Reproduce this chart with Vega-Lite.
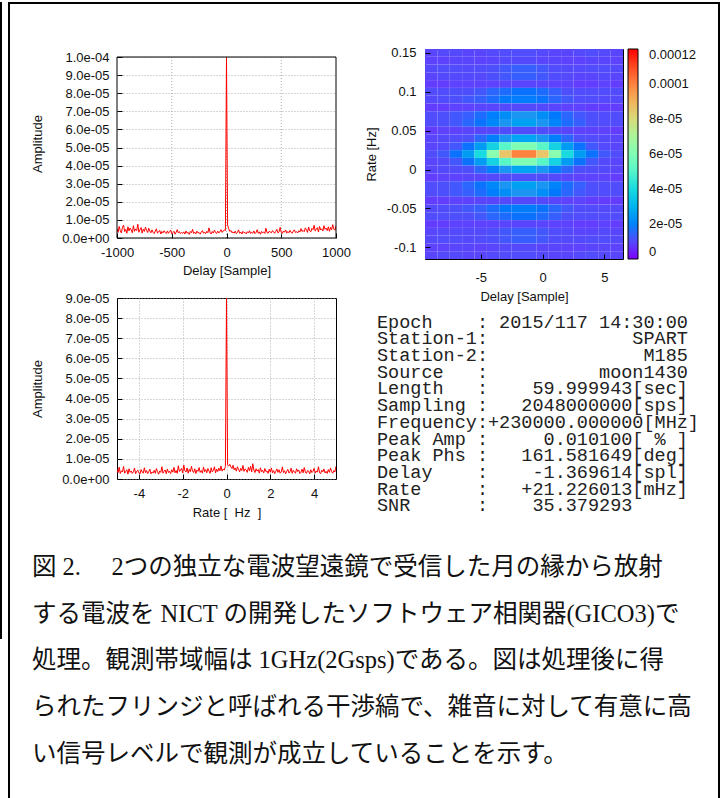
{
"$schema": "https://vega.github.io/schema/vega-lite/v6.json",
"background": "white",
"padding": {"left": 0, "top": 2, "right": 0, "bottom": 0},
"config": {
 "view": {"stroke": null},
 "font": "Liberation Sans",
 "axis": {"labelFont": "Liberation Sans", "labelFontSize": 13, "labelColor": "#111", "titleFont": "Liberation Sans", "titleFontSize": 13, "titleFontWeight": "normal", "titleColor": "#111", "domain": false, "tickColor": "#000", "tickSize": -5, "gridColor": "#999", "gridDash": [1, 2], "gridWidth": 0.8, "labelOverlap": false, "labelFlush": false},
 "legend": {"gradientVerticalMaxLength": 400, "gradientVerticalMinLength": 10}
},
"datasets": {
 "delay": [
{"x":-1000,"y":5.2e-6},{"x":-990,"y":3.1e-6},{"x":-980,"y":6.4e-6},{"x":-970,"y":4.0e-6},{"x":-960,"y":2.8e-6},{"x":-950,"y":5.9e-6},{"x":-940,"y":7.1e-6},{"x":-930,"y":3.5e-6},{"x":-920,"y":4.8e-6},{"x":-910,"y":2.6e-6},{"x":-900,"y":6.2e-6},{"x":-890,"y":3.9e-6},{"x":-880,"y":5.5e-6},{"x":-870,"y":4.4e-6},{"x":-860,"y":2.9e-6},{"x":-850,"y":6.8e-6},{"x":-840,"y":3.7e-6},{"x":-830,"y":5.0e-6},{"x":-820,"y":4.1e-6},{"x":-810,"y":7.6e-6},{"x":-800,"y":3.2e-6},{"x":-790,"y":4.6e-6},{"x":-780,"y":5.8e-6},{"x":-770,"y":2.7e-6},{"x":-760,"y":4.9e-6},{"x":-750,"y":3.6e-6},{"x":-740,"y":6.0e-6},{"x":-730,"y":4.3e-6},{"x":-720,"y":3.0e-6},{"x":-710,"y":5.4e-6},{"x":-700,"y":3.8e-6},
{"x":-690,"y":2.9e-6},{"x":-680,"y":4.5e-6},{"x":-670,"y":3.1e-6},{"x":-660,"y":2.4e-6},{"x":-650,"y":3.8e-6},{"x":-640,"y":5.1e-6},{"x":-630,"y":2.7e-6},{"x":-620,"y":3.3e-6},{"x":-610,"y":4.2e-6},{"x":-600,"y":2.2e-6},{"x":-590,"y":3.6e-6},{"x":-580,"y":2.8e-6},{"x":-570,"y":4.0e-6},{"x":-560,"y":3.1e-6},{"x":-550,"y":2.5e-6},{"x":-540,"y":3.9e-6},{"x":-530,"y":2.6e-6},{"x":-520,"y":3.4e-6},{"x":-510,"y":4.4e-6},{"x":-500,"y":2.3e-6},{"x":-490,"y":3.0e-6},{"x":-480,"y":3.7e-6},{"x":-470,"y":2.1e-6},{"x":-460,"y":3.2e-6},{"x":-450,"y":4.6e-6},{"x":-440,"y":2.8e-6},{"x":-430,"y":3.5e-6},{"x":-420,"y":2.4e-6},{"x":-410,"y":3.0e-6},
{"x":-400,"y":2.6e-6},{"x":-390,"y":3.4e-6},{"x":-380,"y":2.2e-6},{"x":-370,"y":3.9e-6},{"x":-360,"y":2.7e-6},{"x":-350,"y":3.1e-6},{"x":-340,"y":2.0e-6},{"x":-330,"y":3.6e-6},{"x":-320,"y":2.9e-6},{"x":-310,"y":4.8e-6},{"x":-300,"y":2.5e-6},{"x":-290,"y":3.2e-6},{"x":-280,"y":2.3e-6},{"x":-270,"y":3.8e-6},{"x":-260,"y":2.8e-6},{"x":-250,"y":3.0e-6},{"x":-240,"y":2.1e-6},{"x":-230,"y":3.5e-6},{"x":-220,"y":4.1e-6},{"x":-210,"y":2.6e-6},{"x":-200,"y":3.3e-6},{"x":-190,"y":2.4e-6},{"x":-180,"y":3.7e-6},{"x":-170,"y":2.9e-6},{"x":-160,"y":5.6e-6},{"x":-150,"y":3.1e-6},{"x":-140,"y":2.2e-6},{"x":-130,"y":3.6e-6},{"x":-120,"y":2.7e-6},{"x":-110,"y":4.3e-6},{"x":-100,"y":3.0e-6},{"x":-90,"y":2.5e-6},{"x":-80,"y":3.8e-6},{"x":-70,"y":2.8e-6},{"x":-60,"y":3.4e-6},{"x":-50,"y":4.6e-6},{"x":-40,"y":3.1e-6},{"x":-30,"y":3.9e-6},{"x":-20,"y":4.4e-6},
{"x":-10,"y":4.1e-6},{"x":0,"y":1.0e-4},{"x":10,"y":7.2e-6},
{"x":20,"y":5.1e-6},{"x":30,"y":3.6e-6},{"x":40,"y":4.2e-6},{"x":50,"y":2.9e-6},{"x":60,"y":3.4e-6},{"x":70,"y":2.7e-6},{"x":80,"y":3.8e-6},{"x":90,"y":2.4e-6},{"x":100,"y":3.1e-6},{"x":110,"y":4.5e-6},{"x":120,"y":2.6e-6},{"x":130,"y":3.3e-6},{"x":140,"y":2.2e-6},{"x":150,"y":3.7e-6},{"x":160,"y":2.9e-6},{"x":170,"y":3.0e-6},{"x":180,"y":2.3e-6},{"x":190,"y":3.5e-6},{"x":200,"y":2.8e-6},{"x":210,"y":4.0e-6},{"x":220,"y":2.5e-6},{"x":230,"y":3.2e-6},{"x":240,"y":2.7e-6},{"x":250,"y":3.9e-6},{"x":260,"y":2.4e-6},{"x":270,"y":3.1e-6},{"x":280,"y":4.6e-6},{"x":290,"y":2.6e-6},{"x":300,"y":3.4e-6},{"x":310,"y":2.1e-6},{"x":320,"y":3.6e-6},{"x":330,"y":2.8e-6},{"x":340,"y":3.3e-6},{"x":350,"y":2.5e-6},{"x":360,"y":5.4e-6},{"x":370,"y":3.0e-6},{"x":380,"y":2.7e-6},{"x":390,"y":3.8e-6},{"x":400,"y":3.2e-6},
{"x":410,"y":2.9e-6},{"x":420,"y":4.1e-6},{"x":430,"y":3.3e-6},{"x":440,"y":2.6e-6},{"x":450,"y":3.7e-6},{"x":460,"y":4.8e-6},{"x":470,"y":2.8e-6},{"x":480,"y":3.4e-6},{"x":490,"y":5.9e-6},{"x":500,"y":3.0e-6},{"x":510,"y":2.5e-6},{"x":520,"y":3.9e-6},{"x":530,"y":3.2e-6},{"x":540,"y":4.4e-6},{"x":550,"y":2.7e-6},{"x":560,"y":3.6e-6},{"x":570,"y":2.9e-6},{"x":580,"y":4.2e-6},{"x":590,"y":3.1e-6},{"x":600,"y":2.6e-6},{"x":610,"y":3.8e-6},{"x":620,"y":4.5e-6},{"x":630,"y":3.0e-6},{"x":640,"y":3.5e-6},{"x":650,"y":2.8e-6},{"x":660,"y":4.0e-6},{"x":670,"y":3.3e-6},{"x":680,"y":5.2e-6},{"x":690,"y":3.6e-6},
{"x":700,"y":4.2e-6},{"x":710,"y":3.5e-6},{"x":720,"y":5.6e-6},{"x":730,"y":4.7e-6},{"x":740,"y":3.1e-6},{"x":750,"y":6.1e-6},{"x":760,"y":4.0e-6},{"x":770,"y":3.4e-6},{"x":780,"y":5.3e-6},{"x":790,"y":4.6e-6},{"x":800,"y":7.0e-6},{"x":810,"y":3.8e-6},{"x":820,"y":4.9e-6},{"x":830,"y":5.7e-6},{"x":840,"y":3.3e-6},{"x":850,"y":6.4e-6},{"x":860,"y":4.4e-6},{"x":870,"y":5.1e-6},{"x":880,"y":3.9e-6},{"x":890,"y":6.8e-6},{"x":900,"y":4.8e-6},{"x":910,"y":5.5e-6},{"x":920,"y":4.1e-6},{"x":930,"y":6.2e-6},{"x":940,"y":3.7e-6},{"x":950,"y":5.9e-6},{"x":960,"y":4.5e-6},{"x":970,"y":7.4e-6},{"x":980,"y":5.0e-6},{"x":990,"y":4.3e-6},{"x":1000,"y":6.6e-6}
 ],
 "rate": [
{"x":-5,"y":4.8e-6},{"x":-4.95,"y":3.2e-6},{"x":-4.9,"y":5.9e-6},{"x":-4.85,"y":2.7e-6},{"x":-4.8,"y":4.1e-6},{"x":-4.75,"y":3.5e-6},{"x":-4.7,"y":6.2e-6},{"x":-4.65,"y":2.9e-6},{"x":-4.6,"y":3.8e-6},{"x":-4.55,"y":4.6e-6},{"x":-4.5,"y":2.4e-6},{"x":-4.45,"y":5.1e-6},{"x":-4.4,"y":3.3e-6},{"x":-4.35,"y":4.0e-6},{"x":-4.3,"y":2.8e-6},{"x":-4.25,"y":3.6e-6},{"x":-4.2,"y":5.4e-6},{"x":-4.15,"y":2.6e-6},{"x":-4.1,"y":3.9e-6},{"x":-4.05,"y":4.4e-6},
{"x":-4,"y":3.0e-6},{"x":-3.95,"y":2.5e-6},{"x":-3.9,"y":4.7e-6},{"x":-3.85,"y":3.4e-6},{"x":-3.8,"y":2.9e-6},{"x":-3.75,"y":5.6e-6},{"x":-3.7,"y":3.1e-6},{"x":-3.65,"y":4.2e-6},{"x":-3.6,"y":2.7e-6},{"x":-3.55,"y":3.7e-6},{"x":-3.5,"y":4.9e-6},{"x":-3.45,"y":2.6e-6},{"x":-3.4,"y":3.5e-6},{"x":-3.35,"y":3.0e-6},{"x":-3.3,"y":4.3e-6},{"x":-3.25,"y":2.8e-6},{"x":-3.2,"y":5.2e-6},{"x":-3.15,"y":3.6e-6},{"x":-3.1,"y":2.4e-6},{"x":-3.05,"y":4.0e-6},
{"x":-3,"y":3.3e-6},{"x":-2.95,"y":6.1e-6},{"x":-2.9,"y":2.9e-6},{"x":-2.85,"y":3.8e-6},{"x":-2.8,"y":4.5e-6},{"x":-2.75,"y":2.6e-6},{"x":-2.7,"y":5.0e-6},{"x":-2.65,"y":3.2e-6},{"x":-2.6,"y":3.9e-6},{"x":-2.55,"y":2.7e-6},{"x":-2.5,"y":4.6e-6},{"x":-2.45,"y":3.4e-6},{"x":-2.4,"y":5.8e-6},{"x":-2.35,"y":3.1e-6},{"x":-2.3,"y":4.2e-6},{"x":-2.25,"y":2.8e-6},{"x":-2.2,"y":6.6e-6},{"x":-2.15,"y":3.7e-6},{"x":-2.1,"y":4.4e-6},{"x":-2.05,"y":5.3e-6},
{"x":-2,"y":3.0e-6},{"x":-1.95,"y":6.9e-6},{"x":-1.9,"y":4.1e-6},{"x":-1.85,"y":3.5e-6},{"x":-1.8,"y":5.5e-6},{"x":-1.75,"y":2.9e-6},{"x":-1.7,"y":4.8e-6},{"x":-1.65,"y":3.6e-6},{"x":-1.6,"y":6.3e-6},{"x":-1.55,"y":4.0e-6},{"x":-1.5,"y":3.2e-6},{"x":-1.45,"y":5.1e-6},{"x":-1.4,"y":2.7e-6},{"x":-1.35,"y":4.5e-6},{"x":-1.3,"y":3.8e-6},{"x":-1.25,"y":5.7e-6},{"x":-1.2,"y":3.3e-6},{"x":-1.15,"y":4.2e-6},{"x":-1.1,"y":2.9e-6},{"x":-1.05,"y":6.0e-6},
{"x":-1,"y":3.6e-6},{"x":-0.95,"y":4.7e-6},{"x":-0.9,"y":3.1e-6},{"x":-0.85,"y":5.2e-6},{"x":-0.8,"y":4.0e-6},{"x":-0.75,"y":2.8e-6},{"x":-0.7,"y":5.6e-6},{"x":-0.65,"y":3.5e-6},{"x":-0.6,"y":4.3e-6},{"x":-0.55,"y":6.1e-6},{"x":-0.5,"y":3.0e-6},{"x":-0.45,"y":4.9e-6},{"x":-0.4,"y":3.7e-6},{"x":-0.35,"y":5.4e-6},{"x":-0.3,"y":4.1e-6},{"x":-0.25,"y":6.5e-6},{"x":-0.2,"y":3.9e-6},{"x":-0.15,"y":5.0e-6},{"x":-0.1,"y":4.4e-6},{"x":-0.05,"y":6.2e-6},
{"x":0,"y":9.0e-5},
{"x":0.05,"y":7.1e-6},{"x":0.1,"y":6.4e-6},{"x":0.15,"y":7.3e-6},{"x":0.2,"y":6.0e-6},{"x":0.25,"y":5.2e-6},{"x":0.3,"y":6.8e-6},{"x":0.35,"y":4.6e-6},{"x":0.4,"y":5.5e-6},{"x":0.45,"y":3.9e-6},{"x":0.5,"y":6.1e-6},{"x":0.55,"y":4.8e-6},{"x":0.6,"y":3.6e-6},{"x":0.65,"y":5.3e-6},{"x":0.7,"y":4.2e-6},{"x":0.75,"y":6.7e-6},{"x":0.8,"y":3.8e-6},{"x":0.85,"y":5.0e-6},{"x":0.9,"y":4.5e-6},{"x":0.95,"y":3.3e-6},{"x":1,"y":5.8e-6},
{"x":1.05,"y":4.1e-6},{"x":1.1,"y":6.3e-6},{"x":1.15,"y":3.5e-6},{"x":1.2,"y":7.6e-6},{"x":1.25,"y":4.4e-6},{"x":1.3,"y":3.2e-6},{"x":1.35,"y":5.1e-6},{"x":1.4,"y":3.9e-6},{"x":1.45,"y":4.7e-6},{"x":1.5,"y":2.9e-6},{"x":1.55,"y":5.6e-6},{"x":1.6,"y":3.6e-6},{"x":1.65,"y":4.3e-6},{"x":1.7,"y":3.0e-6},{"x":1.75,"y":5.2e-6},{"x":1.8,"y":3.7e-6},{"x":1.85,"y":4.0e-6},{"x":1.9,"y":2.8e-6},{"x":1.95,"y":4.9e-6},{"x":2,"y":3.4e-6},
{"x":2.05,"y":5.5e-6},{"x":2.1,"y":3.1e-6},{"x":2.15,"y":4.2e-6},{"x":2.2,"y":2.7e-6},{"x":2.25,"y":3.8e-6},{"x":2.3,"y":5.0e-6},{"x":2.35,"y":3.3e-6},{"x":2.4,"y":4.6e-6},{"x":2.45,"y":2.9e-6},{"x":2.5,"y":3.5e-6},{"x":2.55,"y":6.0e-6},{"x":2.6,"y":3.2e-6},{"x":2.65,"y":4.1e-6},{"x":2.7,"y":2.6e-6},{"x":2.75,"y":3.9e-6},{"x":2.8,"y":4.8e-6},{"x":2.85,"y":3.0e-6},{"x":2.9,"y":3.6e-6},{"x":2.95,"y":5.4e-6},{"x":3,"y":2.8e-6},
{"x":3.05,"y":4.3e-6},{"x":3.1,"y":3.4e-6},{"x":3.15,"y":2.9e-6},{"x":3.2,"y":5.1e-6},{"x":3.25,"y":3.7e-6},{"x":3.3,"y":4.5e-6},{"x":3.35,"y":2.7e-6},{"x":3.4,"y":3.3e-6},{"x":3.45,"y":4.9e-6},{"x":3.5,"y":3.1e-6},{"x":3.55,"y":5.7e-6},{"x":3.6,"y":3.5e-6},{"x":3.65,"y":2.8e-6},{"x":3.7,"y":4.2e-6},{"x":3.75,"y":3.9e-6},{"x":3.8,"y":2.6e-6},{"x":3.85,"y":4.6e-6},{"x":3.9,"y":3.2e-6},{"x":3.95,"y":3.8e-6},{"x":4,"y":5.3e-6},
{"x":4.05,"y":2.9e-6},{"x":4.1,"y":4.0e-6},{"x":4.15,"y":3.4e-6},{"x":4.2,"y":6.1e-6},{"x":4.25,"y":3.1e-6},{"x":4.3,"y":2.7e-6},{"x":4.35,"y":4.4e-6},{"x":4.4,"y":3.6e-6},{"x":4.45,"y":5.0e-6},{"x":4.5,"y":3.0e-6},{"x":4.55,"y":3.8e-6},{"x":4.6,"y":2.8e-6},{"x":4.65,"y":4.7e-6},{"x":4.7,"y":3.3e-6},{"x":4.75,"y":5.5e-6},{"x":4.8,"y":3.7e-6},{"x":4.85,"y":2.9e-6},{"x":4.9,"y":4.2e-6},{"x":4.95,"y":3.5e-6},{"x":5,"y":6.3e-6}
 ],
 "heat": [
{"d":-9,"r":0.15,"v":9e-6},{"d":-8,"r":0.15,"v":10e-6},{"d":-7,"r":0.15,"v":10e-6},{"d":-6,"r":0.15,"v":9e-6},{"d":-5,"r":0.15,"v":9e-6},{"d":-4,"r":0.15,"v":10e-6},{"d":-3,"r":0.15,"v":11e-6},{"d":-2,"r":0.15,"v":11e-6},{"d":-1,"r":0.15,"v":11e-6},{"d":0,"r":0.15,"v":10e-6},{"d":1,"r":0.15,"v":9e-6},{"d":2,"r":0.15,"v":9e-6},{"d":3,"r":0.15,"v":10e-6},{"d":4,"r":0.15,"v":11e-6},{"d":5,"r":0.15,"v":10e-6},{"d":6,"r":0.15,"v":9e-6},
{"d":-9,"r":0.14,"v":8e-6},{"d":-8,"r":0.14,"v":8e-6},{"d":-7,"r":0.14,"v":9e-6},{"d":-6,"r":0.14,"v":9e-6},{"d":-5,"r":0.14,"v":8e-6},{"d":-4,"r":0.14,"v":9e-6},{"d":-3,"r":0.14,"v":10e-6},{"d":-2,"r":0.14,"v":10e-6},{"d":-1,"r":0.14,"v":10e-6},{"d":0,"r":0.14,"v":9e-6},{"d":1,"r":0.14,"v":9e-6},{"d":2,"r":0.14,"v":8e-6},{"d":3,"r":0.14,"v":8e-6},{"d":4,"r":0.14,"v":9e-6},{"d":5,"r":0.14,"v":9e-6},{"d":6,"r":0.14,"v":8e-6},
{"d":-9,"r":0.13,"v":10e-6},{"d":-8,"r":0.13,"v":11e-6},{"d":-7,"r":0.13,"v":11e-6},{"d":-6,"r":0.13,"v":10e-6},{"d":-5,"r":0.13,"v":11e-6},{"d":-4,"r":0.13,"v":12e-6},{"d":-3,"r":0.13,"v":13e-6},{"d":-2,"r":0.13,"v":14e-6},{"d":-1,"r":0.13,"v":14e-6},{"d":0,"r":0.13,"v":13e-6},{"d":1,"r":0.13,"v":11e-6},{"d":2,"r":0.13,"v":10e-6},{"d":3,"r":0.13,"v":10e-6},{"d":4,"r":0.13,"v":11e-6},{"d":5,"r":0.13,"v":11e-6},{"d":6,"r":0.13,"v":10e-6},
{"d":-9,"r":0.12,"v":9e-6},{"d":-8,"r":0.12,"v":10e-6},{"d":-7,"r":0.12,"v":10e-6},{"d":-6,"r":0.12,"v":10e-6},{"d":-5,"r":0.12,"v":10e-6},{"d":-4,"r":0.12,"v":12e-6},{"d":-3,"r":0.12,"v":13e-6},{"d":-2,"r":0.12,"v":14e-6},{"d":-1,"r":0.12,"v":14e-6},{"d":0,"r":0.12,"v":13e-6},{"d":1,"r":0.12,"v":11e-6},{"d":2,"r":0.12,"v":10e-6},{"d":3,"r":0.12,"v":9e-6},{"d":4,"r":0.12,"v":9e-6},{"d":5,"r":0.12,"v":10e-6},{"d":6,"r":0.12,"v":9e-6},
{"d":-9,"r":0.11,"v":7e-6},{"d":-8,"r":0.11,"v":7e-6},{"d":-7,"r":0.11,"v":8e-6},{"d":-6,"r":0.11,"v":8e-6},{"d":-5,"r":0.11,"v":8e-6},{"d":-4,"r":0.11,"v":8e-6},{"d":-3,"r":0.11,"v":9e-6},{"d":-2,"r":0.11,"v":9e-6},{"d":-1,"r":0.11,"v":9e-6},{"d":0,"r":0.11,"v":9e-6},{"d":1,"r":0.11,"v":8e-6},{"d":2,"r":0.11,"v":8e-6},{"d":3,"r":0.11,"v":7e-6},{"d":4,"r":0.11,"v":7e-6},{"d":5,"r":0.11,"v":8e-6},{"d":6,"r":0.11,"v":7e-6},
{"d":-9,"r":0.1,"v":11e-6},{"d":-8,"r":0.1,"v":11e-6},{"d":-7,"r":0.1,"v":12e-6},{"d":-6,"r":0.1,"v":12e-6},{"d":-5,"r":0.1,"v":13e-6},{"d":-4,"r":0.1,"v":15e-6},{"d":-3,"r":0.1,"v":16e-6},{"d":-2,"r":0.1,"v":17e-6},{"d":-1,"r":0.1,"v":17e-6},{"d":0,"r":0.1,"v":16e-6},{"d":1,"r":0.1,"v":14e-6},{"d":2,"r":0.1,"v":12e-6},{"d":3,"r":0.1,"v":11e-6},{"d":4,"r":0.1,"v":11e-6},{"d":5,"r":0.1,"v":11e-6},{"d":6,"r":0.1,"v":11e-6},
{"d":-9,"r":0.09,"v":10e-6},{"d":-8,"r":0.09,"v":11e-6},{"d":-7,"r":0.09,"v":12e-6},{"d":-6,"r":0.09,"v":13e-6},{"d":-5,"r":0.09,"v":14e-6},{"d":-4,"r":0.09,"v":16e-6},{"d":-3,"r":0.09,"v":18e-6},{"d":-2,"r":0.09,"v":19e-6},{"d":-1,"r":0.09,"v":19e-6},{"d":0,"r":0.09,"v":17e-6},{"d":1,"r":0.09,"v":15e-6},{"d":2,"r":0.09,"v":13e-6},{"d":3,"r":0.09,"v":11e-6},{"d":4,"r":0.09,"v":11e-6},{"d":5,"r":0.09,"v":10e-6},{"d":6,"r":0.09,"v":10e-6},
{"d":-9,"r":0.08,"v":7e-6},{"d":-8,"r":0.08,"v":7e-6},{"d":-7,"r":0.08,"v":8e-6},{"d":-6,"r":0.08,"v":8e-6},{"d":-5,"r":0.08,"v":9e-6},{"d":-4,"r":0.08,"v":9e-6},{"d":-3,"r":0.08,"v":10e-6},{"d":-2,"r":0.08,"v":10e-6},{"d":-1,"r":0.08,"v":10e-6},{"d":0,"r":0.08,"v":10e-6},{"d":1,"r":0.08,"v":9e-6},{"d":2,"r":0.08,"v":8e-6},{"d":3,"r":0.08,"v":8e-6},{"d":4,"r":0.08,"v":7e-6},{"d":5,"r":0.08,"v":7e-6},{"d":6,"r":0.08,"v":7e-6},
{"d":-9,"r":0.07,"v":11e-6},{"d":-8,"r":0.07,"v":12e-6},{"d":-7,"r":0.07,"v":13e-6},{"d":-6,"r":0.07,"v":14e-6},{"d":-5,"r":0.07,"v":16e-6},{"d":-4,"r":0.07,"v":19e-6},{"d":-3,"r":0.07,"v":22e-6},{"d":-2,"r":0.07,"v":24e-6},{"d":-1,"r":0.07,"v":24e-6},{"d":0,"r":0.07,"v":22e-6},{"d":1,"r":0.07,"v":18e-6},{"d":2,"r":0.07,"v":15e-6},{"d":3,"r":0.07,"v":13e-6},{"d":4,"r":0.07,"v":12e-6},{"d":5,"r":0.07,"v":11e-6},{"d":6,"r":0.07,"v":11e-6},
{"d":-9,"r":0.06,"v":11e-6},{"d":-8,"r":0.06,"v":12e-6},{"d":-7,"r":0.06,"v":13e-6},{"d":-6,"r":0.06,"v":15e-6},{"d":-5,"r":0.06,"v":17e-6},{"d":-4,"r":0.06,"v":21e-6},{"d":-3,"r":0.06,"v":24e-6},{"d":-2,"r":0.06,"v":26e-6},{"d":-1,"r":0.06,"v":26e-6},{"d":0,"r":0.06,"v":24e-6},{"d":1,"r":0.06,"v":20e-6},{"d":2,"r":0.06,"v":16e-6},{"d":3,"r":0.06,"v":14e-6},{"d":4,"r":0.06,"v":12e-6},{"d":5,"r":0.06,"v":11e-6},{"d":6,"r":0.06,"v":11e-6},
{"d":-9,"r":0.05,"v":7e-6},{"d":-8,"r":0.05,"v":8e-6},{"d":-7,"r":0.05,"v":8e-6},{"d":-6,"r":0.05,"v":9e-6},{"d":-5,"r":0.05,"v":9e-6},{"d":-4,"r":0.05,"v":10e-6},{"d":-3,"r":0.05,"v":11e-6},{"d":-2,"r":0.05,"v":11e-6},{"d":-1,"r":0.05,"v":11e-6},{"d":0,"r":0.05,"v":11e-6},{"d":1,"r":0.05,"v":10e-6},{"d":2,"r":0.05,"v":9e-6},{"d":3,"r":0.05,"v":8e-6},{"d":4,"r":0.05,"v":8e-6},{"d":5,"r":0.05,"v":8e-6},{"d":6,"r":0.05,"v":7e-6},
{"d":-9,"r":0.04,"v":9e-6},{"d":-8,"r":0.04,"v":10e-6},{"d":-7,"r":0.04,"v":11e-6},{"d":-6,"r":0.04,"v":12e-6},{"d":-5,"r":0.04,"v":15e-6},{"d":-4,"r":0.04,"v":19e-6},{"d":-3,"r":0.04,"v":24e-6},{"d":-2,"r":0.04,"v":27e-6},{"d":-1,"r":0.04,"v":27e-6},{"d":0,"r":0.04,"v":24e-6},{"d":1,"r":0.04,"v":19e-6},{"d":2,"r":0.04,"v":15e-6},{"d":3,"r":0.04,"v":12e-6},{"d":4,"r":0.04,"v":11e-6},{"d":5,"r":0.04,"v":10e-6},{"d":6,"r":0.04,"v":9e-6},
{"d":-9,"r":0.03,"v":9e-6},{"d":-8,"r":0.03,"v":10e-6},{"d":-7,"r":0.03,"v":13e-6},{"d":-6,"r":0.03,"v":17e-6},{"d":-5,"r":0.03,"v":25e-6},{"d":-4,"r":0.03,"v":37e-6},{"d":-3,"r":0.03,"v":51e-6},{"d":-2,"r":0.03,"v":60e-6},{"d":-1,"r":0.03,"v":60e-6},{"d":0,"r":0.03,"v":51e-6},{"d":1,"r":0.03,"v":37e-6},{"d":2,"r":0.03,"v":25e-6},{"d":3,"r":0.03,"v":17e-6},{"d":4,"r":0.03,"v":13e-6},{"d":5,"r":0.03,"v":10e-6},{"d":6,"r":0.03,"v":9e-6},
{"d":-9,"r":0.02,"v":11e-6},{"d":-8,"r":0.02,"v":13e-6},{"d":-7,"r":0.02,"v":17e-6},{"d":-6,"r":0.02,"v":25e-6},{"d":-5,"r":0.02,"v":40e-6},{"d":-4,"r":0.02,"v":62e-6},{"d":-3,"r":0.02,"v":86e-6},{"d":-2,"r":0.02,"v":100e-6},{"d":-1,"r":0.02,"v":100e-6},{"d":0,"r":0.02,"v":86e-6},{"d":1,"r":0.02,"v":62e-6},{"d":2,"r":0.02,"v":40e-6},{"d":3,"r":0.02,"v":25e-6},{"d":4,"r":0.02,"v":17e-6},{"d":5,"r":0.02,"v":13e-6},{"d":6,"r":0.02,"v":11e-6},
{"d":-9,"r":0.01,"v":9e-6},{"d":-8,"r":0.01,"v":10e-6},{"d":-7,"r":0.01,"v":13e-6},{"d":-6,"r":0.01,"v":17e-6},{"d":-5,"r":0.01,"v":25e-6},{"d":-4,"r":0.01,"v":37e-6},{"d":-3,"r":0.01,"v":51e-6},{"d":-2,"r":0.01,"v":60e-6},{"d":-1,"r":0.01,"v":60e-6},{"d":0,"r":0.01,"v":51e-6},{"d":1,"r":0.01,"v":37e-6},{"d":2,"r":0.01,"v":25e-6},{"d":3,"r":0.01,"v":17e-6},{"d":4,"r":0.01,"v":13e-6},{"d":5,"r":0.01,"v":10e-6},{"d":6,"r":0.01,"v":9e-6},
{"d":-9,"r":0,"v":9e-6},{"d":-8,"r":0,"v":10e-6},{"d":-7,"r":0,"v":11e-6},{"d":-6,"r":0,"v":12e-6},{"d":-5,"r":0,"v":15e-6},{"d":-4,"r":0,"v":19e-6},{"d":-3,"r":0,"v":24e-6},{"d":-2,"r":0,"v":27e-6},{"d":-1,"r":0,"v":27e-6},{"d":0,"r":0,"v":24e-6},{"d":1,"r":0,"v":19e-6},{"d":2,"r":0,"v":15e-6},{"d":3,"r":0,"v":12e-6},{"d":4,"r":0,"v":11e-6},{"d":5,"r":0,"v":10e-6},{"d":6,"r":0,"v":9e-6},
{"d":-9,"r":-0.01,"v":7e-6},{"d":-8,"r":-0.01,"v":8e-6},{"d":-7,"r":-0.01,"v":8e-6},{"d":-6,"r":-0.01,"v":9e-6},{"d":-5,"r":-0.01,"v":9e-6},{"d":-4,"r":-0.01,"v":10e-6},{"d":-3,"r":-0.01,"v":11e-6},{"d":-2,"r":-0.01,"v":11e-6},{"d":-1,"r":-0.01,"v":11e-6},{"d":0,"r":-0.01,"v":11e-6},{"d":1,"r":-0.01,"v":10e-6},{"d":2,"r":-0.01,"v":9e-6},{"d":3,"r":-0.01,"v":8e-6},{"d":4,"r":-0.01,"v":8e-6},{"d":5,"r":-0.01,"v":8e-6},{"d":6,"r":-0.01,"v":7e-6},
{"d":-9,"r":-0.02,"v":11e-6},{"d":-8,"r":-0.02,"v":12e-6},{"d":-7,"r":-0.02,"v":13e-6},{"d":-6,"r":-0.02,"v":15e-6},{"d":-5,"r":-0.02,"v":17e-6},{"d":-4,"r":-0.02,"v":21e-6},{"d":-3,"r":-0.02,"v":24e-6},{"d":-2,"r":-0.02,"v":26e-6},{"d":-1,"r":-0.02,"v":26e-6},{"d":0,"r":-0.02,"v":24e-6},{"d":1,"r":-0.02,"v":20e-6},{"d":2,"r":-0.02,"v":16e-6},{"d":3,"r":-0.02,"v":14e-6},{"d":4,"r":-0.02,"v":12e-6},{"d":5,"r":-0.02,"v":11e-6},{"d":6,"r":-0.02,"v":11e-6},
{"d":-9,"r":-0.03,"v":11e-6},{"d":-8,"r":-0.03,"v":12e-6},{"d":-7,"r":-0.03,"v":13e-6},{"d":-6,"r":-0.03,"v":14e-6},{"d":-5,"r":-0.03,"v":16e-6},{"d":-4,"r":-0.03,"v":19e-6},{"d":-3,"r":-0.03,"v":22e-6},{"d":-2,"r":-0.03,"v":24e-6},{"d":-1,"r":-0.03,"v":24e-6},{"d":0,"r":-0.03,"v":22e-6},{"d":1,"r":-0.03,"v":18e-6},{"d":2,"r":-0.03,"v":15e-6},{"d":3,"r":-0.03,"v":13e-6},{"d":4,"r":-0.03,"v":12e-6},{"d":5,"r":-0.03,"v":11e-6},{"d":6,"r":-0.03,"v":11e-6},
{"d":-9,"r":-0.04,"v":7e-6},{"d":-8,"r":-0.04,"v":7e-6},{"d":-7,"r":-0.04,"v":8e-6},{"d":-6,"r":-0.04,"v":8e-6},{"d":-5,"r":-0.04,"v":9e-6},{"d":-4,"r":-0.04,"v":9e-6},{"d":-3,"r":-0.04,"v":10e-6},{"d":-2,"r":-0.04,"v":10e-6},{"d":-1,"r":-0.04,"v":10e-6},{"d":0,"r":-0.04,"v":10e-6},{"d":1,"r":-0.04,"v":9e-6},{"d":2,"r":-0.04,"v":8e-6},{"d":3,"r":-0.04,"v":8e-6},{"d":4,"r":-0.04,"v":7e-6},{"d":5,"r":-0.04,"v":7e-6},{"d":6,"r":-0.04,"v":7e-6},
{"d":-9,"r":-0.05,"v":10e-6},{"d":-8,"r":-0.05,"v":11e-6},{"d":-7,"r":-0.05,"v":12e-6},{"d":-6,"r":-0.05,"v":13e-6},{"d":-5,"r":-0.05,"v":14e-6},{"d":-4,"r":-0.05,"v":16e-6},{"d":-3,"r":-0.05,"v":18e-6},{"d":-2,"r":-0.05,"v":19e-6},{"d":-1,"r":-0.05,"v":19e-6},{"d":0,"r":-0.05,"v":17e-6},{"d":1,"r":-0.05,"v":15e-6},{"d":2,"r":-0.05,"v":13e-6},{"d":3,"r":-0.05,"v":11e-6},{"d":4,"r":-0.05,"v":11e-6},{"d":5,"r":-0.05,"v":10e-6},{"d":6,"r":-0.05,"v":10e-6},
{"d":-9,"r":-0.06,"v":11e-6},{"d":-8,"r":-0.06,"v":11e-6},{"d":-7,"r":-0.06,"v":12e-6},{"d":-6,"r":-0.06,"v":12e-6},{"d":-5,"r":-0.06,"v":13e-6},{"d":-4,"r":-0.06,"v":15e-6},{"d":-3,"r":-0.06,"v":16e-6},{"d":-2,"r":-0.06,"v":17e-6},{"d":-1,"r":-0.06,"v":17e-6},{"d":0,"r":-0.06,"v":16e-6},{"d":1,"r":-0.06,"v":14e-6},{"d":2,"r":-0.06,"v":12e-6},{"d":3,"r":-0.06,"v":11e-6},{"d":4,"r":-0.06,"v":11e-6},{"d":5,"r":-0.06,"v":11e-6},{"d":6,"r":-0.06,"v":11e-6},
{"d":-9,"r":-0.07,"v":7e-6},{"d":-8,"r":-0.07,"v":7e-6},{"d":-7,"r":-0.07,"v":8e-6},{"d":-6,"r":-0.07,"v":8e-6},{"d":-5,"r":-0.07,"v":8e-6},{"d":-4,"r":-0.07,"v":8e-6},{"d":-3,"r":-0.07,"v":9e-6},{"d":-2,"r":-0.07,"v":9e-6},{"d":-1,"r":-0.07,"v":9e-6},{"d":0,"r":-0.07,"v":9e-6},{"d":1,"r":-0.07,"v":8e-6},{"d":2,"r":-0.07,"v":8e-6},{"d":3,"r":-0.07,"v":7e-6},{"d":4,"r":-0.07,"v":7e-6},{"d":5,"r":-0.07,"v":8e-6},{"d":6,"r":-0.07,"v":7e-6},
{"d":-9,"r":-0.08,"v":9e-6},{"d":-8,"r":-0.08,"v":10e-6},{"d":-7,"r":-0.08,"v":10e-6},{"d":-6,"r":-0.08,"v":10e-6},{"d":-5,"r":-0.08,"v":10e-6},{"d":-4,"r":-0.08,"v":12e-6},{"d":-3,"r":-0.08,"v":13e-6},{"d":-2,"r":-0.08,"v":14e-6},{"d":-1,"r":-0.08,"v":14e-6},{"d":0,"r":-0.08,"v":13e-6},{"d":1,"r":-0.08,"v":11e-6},{"d":2,"r":-0.08,"v":10e-6},{"d":3,"r":-0.08,"v":9e-6},{"d":4,"r":-0.08,"v":9e-6},{"d":5,"r":-0.08,"v":10e-6},{"d":6,"r":-0.08,"v":9e-6},
{"d":-9,"r":-0.09,"v":10e-6},{"d":-8,"r":-0.09,"v":11e-6},{"d":-7,"r":-0.09,"v":11e-6},{"d":-6,"r":-0.09,"v":10e-6},{"d":-5,"r":-0.09,"v":11e-6},{"d":-4,"r":-0.09,"v":12e-6},{"d":-3,"r":-0.09,"v":13e-6},{"d":-2,"r":-0.09,"v":14e-6},{"d":-1,"r":-0.09,"v":14e-6},{"d":0,"r":-0.09,"v":13e-6},{"d":1,"r":-0.09,"v":11e-6},{"d":2,"r":-0.09,"v":10e-6},{"d":3,"r":-0.09,"v":10e-6},{"d":4,"r":-0.09,"v":11e-6},{"d":5,"r":-0.09,"v":11e-6},{"d":6,"r":-0.09,"v":10e-6},
{"d":-9,"r":-0.1,"v":8e-6},{"d":-8,"r":-0.1,"v":8e-6},{"d":-7,"r":-0.1,"v":9e-6},{"d":-6,"r":-0.1,"v":9e-6},{"d":-5,"r":-0.1,"v":8e-6},{"d":-4,"r":-0.1,"v":9e-6},{"d":-3,"r":-0.1,"v":10e-6},{"d":-2,"r":-0.1,"v":10e-6},{"d":-1,"r":-0.1,"v":10e-6},{"d":0,"r":-0.1,"v":9e-6},{"d":1,"r":-0.1,"v":9e-6},{"d":2,"r":-0.1,"v":8e-6},{"d":3,"r":-0.1,"v":8e-6},{"d":4,"r":-0.1,"v":9e-6},{"d":5,"r":-0.1,"v":9e-6},{"d":6,"r":-0.1,"v":8e-6},
{"d":-9,"r":-0.11,"v":9e-6},{"d":-8,"r":-0.11,"v":10e-6},{"d":-7,"r":-0.11,"v":10e-6},{"d":-6,"r":-0.11,"v":9e-6},{"d":-5,"r":-0.11,"v":9e-6},{"d":-4,"r":-0.11,"v":10e-6},{"d":-3,"r":-0.11,"v":11e-6},{"d":-2,"r":-0.11,"v":11e-6},{"d":-1,"r":-0.11,"v":11e-6},{"d":0,"r":-0.11,"v":10e-6},{"d":1,"r":-0.11,"v":9e-6},{"d":2,"r":-0.11,"v":9e-6},{"d":3,"r":-0.11,"v":10e-6},{"d":4,"r":-0.11,"v":11e-6},{"d":5,"r":-0.11,"v":10e-6},{"d":6,"r":-0.11,"v":9e-6}
 ],
 "info": [
{"i":1,"t":"Epoch\u00a0\u00a0\u00a0\u00a0:\u00a02015/117\u00a014:30:00"},
{"i":2,"t":"Station-1:\u00a0\u00a0\u00a0\u00a0\u00a0\u00a0\u00a0\u00a0\u00a0\u00a0\u00a0\u00a0\u00a0SPART"},
{"i":3,"t":"Station-2:\u00a0\u00a0\u00a0\u00a0\u00a0\u00a0\u00a0\u00a0\u00a0\u00a0\u00a0\u00a0\u00a0\u00a0M185"},
{"i":4,"t":"Source\u00a0\u00a0\u00a0:\u00a0\u00a0\u00a0\u00a0\u00a0\u00a0\u00a0\u00a0\u00a0\u00a0moon1430"},
{"i":5,"t":"Length\u00a0\u00a0\u00a0:\u00a0\u00a0\u00a0\u00a059.999943[sec]"},
{"i":6,"t":"Sampling\u00a0:\u00a0\u00a0\u00a02048000000[sps]"},
{"i":7,"t":"Frequency:+230000.000000[MHz]"},
{"i":8,"t":"Peak\u00a0Amp\u00a0:\u00a0\u00a0\u00a0\u00a0\u00a00.010100[\u00a0%\u00a0]"},
{"i":9,"t":"Peak\u00a0Phs\u00a0:\u00a0\u00a0\u00a0161.581649[deg]"},
{"i":10,"t":"Delay\u00a0\u00a0\u00a0\u00a0:\u00a0\u00a0\u00a0\u00a0-1.369614[spl]"},
{"i":11,"t":"Rate\u00a0\u00a0\u00a0\u00a0\u00a0:\u00a0\u00a0\u00a0+21.226013[mHz]"},
{"i":12,"t":"SNR\u00a0\u00a0\u00a0\u00a0\u00a0\u00a0:\u00a0\u00a0\u00a0\u00a035.379293"}
 ],
 "capA": [
{"i":1,"t":"図 2.\u3000 2つの独立な電波望遠鏡で受信した月の縁から放射"},
{"i":2,"t":"する電波を NICT の開発したソフトウェア相関器(GICO3)で"}
 ],
 "capB": [
{"i":3,"t":"処理。観測帯域幅は 1GHz(2Gsps)である。図は処理後に得"},
{"i":4,"t":"られたフリンジと呼ばれる干渉縞で、雑音に対して有意に高"},
{"i":5,"t":"い信号レベルで観測が成立していることを示す。"}
 ],
 "grid1": [{"g": -500}, {"g": 0}, {"g": 500}]
},
"columns": 11,
"align": "none",
"bounds": "flush",
"spacing": 0,
"resolve": {"scale": {"color": "independent"}, "legend": {"color": "independent"}},
"concat": [
 {"width":0.01,"height":0.01,"data":{"values":[]},"mark":"point","view":{"stroke":"#000","strokeWidth":2}},
 {"width":7,"height":0.01,"data":{"values":[]},"mark":"point"},
 {"width":0.01,"height":0.01,"data":{"values":[]},"mark":"point","view":{"stroke":"#000","strokeWidth":2}},
 {"width":22,"height":0.01,"data":{"values":[]},"mark":"point","view":{"stroke":"#000","strokeWidth":2}},
 {"width":85,"height":0.01,"data":{"values":[]},"mark":"point","view":{"stroke":"#000","strokeWidth":2}},
 {"width":219,"height":0.01,"data":{"values":[]},"mark":"point","view":{"stroke":"#000","strokeWidth":2}},
 {"width":41,"height":0.01,"data":{"values":[]},"mark":"point","view":{"stroke":"#000","strokeWidth":2}},
 {"width":48,"height":0.01,"data":{"values":[]},"mark":"point","view":{"stroke":"#000","strokeWidth":2}},
 {"width":198,"height":0.01,"data":{"values":[]},"mark":"point","view":{"stroke":"#000","strokeWidth":2}},
 {"width":96,"height":0.01,"data":{"values":[]},"mark":"point","view":{"stroke":"#000","strokeWidth":2}},
 {"width":0.01,"height":0.01,"data":{"values":[]},"mark":"point","view":{"stroke":"#000","strokeWidth":2}},

 {"width":0.01,"height":45,"data":{"values":[]},"mark":"point","view":{"stroke":"#000","strokeWidth":2}},
 {"width":0.01,"height":0.01,"data":{"values":[]},"mark":"point"},
 {"width":0.01,"height":45,"data":{"values":[]},"mark":"point","view":{"stroke":"#000","strokeWidth":2}},
 {"width":0.01,"height":0.01,"data":{"values":[]},"mark":"point"},
 {"width":0.01,"height":0.01,"data":{"values":[]},"mark":"point"},
 {"width":0.01,"height":0.01,"data":{"values":[]},"mark":"point"},
 {"width":0.01,"height":0.01,"data":{"values":[]},"mark":"point"},
 {"width":0.01,"height":0.01,"data":{"values":[]},"mark":"point"},
 {"width":0.01,"height":0.01,"data":{"values":[]},"mark":"point"},
 {"width":0.01,"height":0.01,"data":{"values":[]},"mark":"point"},
 {"width":0.01,"height":45,"data":{"values":[]},"mark":"point","view":{"stroke":"#000","strokeWidth":2}},

 {"width":0.01,"height":210,"data":{"values":[]},"mark":"point","view":{"stroke":"#000","strokeWidth":2}},
 {"width":0.01,"height":0.01,"data":{"values":[]},"mark":"point"},
 {"width":0.01,"height":210,"data":{"values":[]},"mark":"point","view":{"stroke":"#000","strokeWidth":2}},
 {"width":0.01,"height":0.01,"data":{"values":[]},"mark":"point"},
 {"width":0.01,"height":0.01,"data":{"values":[]},"mark":"point"},
 {"width": 219, "height": 189,
  "layer": [
   {"data": {"name": "grid1"}, "mark": {"type": "rule", "color": "#999", "strokeDash": [1, 2], "strokeWidth": 0.8},
    "encoding": {
     "x": {"field": "g", "type": "quantitative", "scale": {"domain": [-1000, 1000], "nice": false, "zero": false},
           "axis": {"values": [-1000, -500, 0, 500, 1000], "labelExpr": "datum.value + ''", "title": "Delay [Sample]", "grid": false, "labelPadding": 13, "titlePadding": 5}},
     "y": {"datum": 0, "type": "quantitative", "scale": {"domain": [0, 0.00010442], "nice": false, "zero": false},
           "axis": {"values": [0, 0.00001, 0.00002, 0.00003, 0.00004, 0.00005, 0.00006, 0.00007, 0.00008, 0.00009, 0.0001], "labelExpr": "replace(replace(format(datum.value, '.1e'), 'e-', 'e-0'), 'e+', 'e+0')", "title": "Amplitude", "grid": true, "labelPadding": 13, "titlePadding": 17}},
     "y2": {"datum": 0.0001}
    }},
   {"data": {"name": "delay"},
    "mark": {"type": "line", "color": "#ff0000", "strokeWidth": 1, "clip": true},
    "encoding": {
     "x": {"field": "x", "type": "quantitative", "scale": {"domain": [-1000, 1000], "nice": false, "zero": false},
           "axis": {"values": [-1000, -500, 0, 500, 1000], "labelExpr": "datum.value + ''", "title": "Delay [Sample]", "grid": false, "labelPadding": 13, "titlePadding": 5}},
     "y": {"field": "y", "type": "quantitative", "scale": {"domain": [0, 0.00010442], "nice": false, "zero": false},
           "axis": {"values": [0, 0.00001, 0.00002, 0.00003, 0.00004, 0.00005, 0.00006, 0.00007, 0.00008, 0.00009, 0.0001], "labelExpr": "replace(replace(format(datum.value, '.1e'), 'e-', 'e-0'), 'e+', 'e+0')", "title": "Amplitude", "grid": true, "labelPadding": 13, "titlePadding": 17}}
    }},
   {"data": {"values": [{}]}, "mark": {"type": "rect", "fillOpacity": 0, "stroke": "#000", "strokeWidth": 1},
    "encoding": {
     "x": {"datum": -1000, "type": "quantitative", "scale": {"domain": [-1000, 1000], "nice": false, "zero": false},
           "axis": {"values": [-1000, -500, 0, 500, 1000], "labelExpr": "datum.value + ''", "title": "Delay [Sample]", "grid": false, "labelPadding": 13, "titlePadding": 5}},
     "x2": {"datum": 1000},
     "y": {"datum": 0, "type": "quantitative", "scale": {"domain": [0, 0.00010442], "nice": false, "zero": false},
           "axis": {"values": [0, 0.00001, 0.00002, 0.00003, 0.00004, 0.00005, 0.00006, 0.00007, 0.00008, 0.00009, 0.0001], "labelExpr": "replace(replace(format(datum.value, '.1e'), 'e-', 'e-0'), 'e+', 'e+0')", "title": "Amplitude", "grid": true, "labelPadding": 13, "titlePadding": 17}},
     "y2": {"datum": 0.0001}
    }}
  ]},
 {"width":0.01,"height":0.01,"data":{"values":[]},"mark":"point"},
 {"width":0.01,"height":0.01,"data":{"values":[]},"mark":"point"},
 {"width": 198, "height": 210, "view": {"stroke": "#000", "strokeWidth": 1},
  "layer": [
   {"data": {"name": "heat"},
    "mark": {"type": "rect"},
    "encoding": {
     "x": {"field": "d", "type": "ordinal", "scale": {"domain": [-9,-8,-7,-6,-5,-4,-3,-2,-1,0,1,2,3,4,5,6], "paddingInner": 0, "paddingOuter": 0}, "axis": null},
     "y": {"field": "r", "type": "ordinal", "scale": {"domain": [0.15,0.14,0.13,0.12,0.11,0.1,0.09,0.08,0.07,0.06,0.05,0.04,0.03,0.02,0.01,0,-0.01,-0.02,-0.03,-0.04,-0.05,-0.06,-0.07,-0.08,-0.09,-0.1,-0.11], "paddingInner": 0, "paddingOuter": 0}, "axis": null},
     "color": {"field": "v", "type": "quantitative",
               "scale": {"domain": [0, 0.000012, 0.000024, 0.000036, 0.000048, 0.00006, 0.000072, 0.000084, 0.000096, 0.000108, 0.00012], "range": ["#8000ff", "#4d4ffc", "#1a96f2", "#1acee3", "#4df2ce", "#80ffb4", "#b3f296", "#e6ce74", "#ff964f", "#ff4f28", "#ff0000"]},
               "legend": {"type": "gradient", "orient": "right", "offset": 5, "title": null, "direction": "vertical", "gradientLength": 210, "gradientThickness": 10, "labelFontSize": 13, "labelFont": "Liberation Sans", "labelColor": "#111", "labelOffset": 11, "padding": 0, "gradientStrokeColor": "#000", "gradientStrokeWidth": 1, "values": [0, 0.00002, 0.00004, 0.00006, 0.00008, 0.0001, 0.00012], "labelExpr": "datum.value == 0 ? '0' : datum.value > 0.00009 ? format(datum.value, '~g') : replace(format(datum.value, '.0e'), 'e-', 'e-0')"}}
    }},
   {"data": {"values": []},
    "mark": "point",
    "encoding": {
     "x": {"field": "d", "type": "quantitative", "scale": {"domain": [-9.5, 6.5], "nice": false, "zero": false},
           "axis": {"values": [-5, 0, 5], "labelExpr": "datum.value + ''", "title": "Delay [Sample]", "labelPadding": 17, "titlePadding": 6, "zindex": 1}},
     "y": {"field": "r", "type": "quantitative", "scale": {"domain": [-0.115, 0.155], "nice": false, "zero": false},
           "axis": {"values": [-0.1, -0.05, 0, 0.05, 0.1, 0.15], "labelExpr": "datum.value + ''", "title": "Rate [Hz]", "labelPadding": 14, "titlePadding": 8, "zindex": 1}}
    }}
  ],
  "resolve": {"scale": {"x": "independent", "y": "independent"}}},
 {"width":0.01,"height":0.01,"data":{"values":[]},"mark":"point"},
 {"width":0.01,"height":210,"data":{"values":[]},"mark":"point","view":{"stroke":"#000","strokeWidth":2}},

 {"width":0.01,"height":39,"data":{"values":[]},"mark":"point","view":{"stroke":"#000","strokeWidth":2}},
 {"width":0.01,"height":0.01,"data":{"values":[]},"mark":"point"},
 {"width":0.01,"height":39,"data":{"values":[]},"mark":"point","view":{"stroke":"#000","strokeWidth":2}},
 {"width":0.01,"height":0.01,"data":{"values":[]},"mark":"point"},
 {"width":0.01,"height":0.01,"data":{"values":[]},"mark":"point"},
 {"width":0.01,"height":0.01,"data":{"values":[]},"mark":"point"},
 {"width":0.01,"height":0.01,"data":{"values":[]},"mark":"point"},
 {"width":0.01,"height":0.01,"data":{"values":[]},"mark":"point"},
 {"width":0.01,"height":0.01,"data":{"values":[]},"mark":"point"},
 {"width":0.01,"height":0.01,"data":{"values":[]},"mark":"point"},
 {"width":0.01,"height":39,"data":{"values":[]},"mark":"point","view":{"stroke":"#000","strokeWidth":2}},

 {"width":0.01,"height":215,"data":{"values":[]},"mark":"point","view":{"stroke":"#000","strokeWidth":2}},
 {"width":0.01,"height":0.01,"data":{"values":[]},"mark":"point"},
 {"width":0.01,"height":215,"data":{"values":[]},"mark":"point","view":{"stroke":"#000","strokeWidth":2}},
 {"width":0.01,"height":0.01,"data":{"values":[]},"mark":"point"},
 {"width":0.01,"height":0.01,"data":{"values":[]},"mark":"point"},
 {"width": 219, "height": 181, "view": {"stroke": "#000", "strokeWidth": 1},
  "data": {"name": "rate"},
  "mark": {"type": "line", "color": "#ff0000", "strokeWidth": 1, "clip": true},
  "encoding": {
   "x": {"field": "x", "type": "quantitative", "scale": {"domain": [-5, 5], "nice": false, "zero": false},
         "axis": {"values": [-4, -2, 0, 2, 4], "labelExpr": "datum.value + ''", "title": "Rate [\u00a0\u00a0Hz\u00a0\u00a0]", "grid": true, "labelPadding": 13, "titlePadding": 6}},
   "y": {"field": "y", "type": "quantitative", "scale": {"domain": [0, 0.00009], "nice": false},
         "axis": {"values": [0, 0.00001, 0.00002, 0.00003, 0.00004, 0.00005, 0.00006, 0.00007, 0.00008, 0.00009], "labelExpr": "replace(replace(format(datum.value, '.1e'), 'e-', 'e-0'), 'e+', 'e+0')", "title": "Amplitude", "grid": true, "labelPadding": 13, "titlePadding": 17}}
  }},
 {"width":0.01,"height":0.01,"data":{"values":[]},"mark":"point"},
 {"width": 48, "height": 215,
  "data": {"name": "info"},
  "mark": {"type": "text", "align": "left", "baseline": "middle", "font": "Liberation Mono", "fontSize": 18.5, "color": "#222"},
  "encoding": {
   "y": {"field": "i", "type": "quantitative", "axis": null, "scale": {"domain": [-0.419, 12.455], "reverse": true, "nice": false, "zero": false}},
   "x": {"datum": 0, "type": "quantitative", "axis": null, "scale": {"domain": [0, 1]}},
   "text": {"field": "t"}
  }},
 {"width":0.01,"height":0.01,"data":{"values":[]},"mark":"point"},
 {"width":0.01,"height":0.01,"data":{"values":[]},"mark":"point"},
 {"width":0.01,"height":215,"data":{"values":[]},"mark":"point","view":{"stroke":"#000","strokeWidth":2}},

 {"width":0.01,"height":31,"data":{"values":[]},"mark":"point","view":{"stroke":"#000","strokeWidth":2}},
 {"width":0.01,"height":0.01,"data":{"values":[]},"mark":"point"},
 {"width":0.01,"height":31,"data":{"values":[]},"mark":"point","view":{"stroke":"#000","strokeWidth":2}},
 {"width":0.01,"height":0.01,"data":{"values":[]},"mark":"point"},
 {"width":0.01,"height":0.01,"data":{"values":[]},"mark":"point"},
 {"width":0.01,"height":0.01,"data":{"values":[]},"mark":"point"},
 {"width":0.01,"height":0.01,"data":{"values":[]},"mark":"point"},
 {"width":0.01,"height":0.01,"data":{"values":[]},"mark":"point"},
 {"width":0.01,"height":0.01,"data":{"values":[]},"mark":"point"},
 {"width":0.01,"height":0.01,"data":{"values":[]},"mark":"point"},
 {"width":0.01,"height":31,"data":{"values":[]},"mark":"point","view":{"stroke":"#000","strokeWidth":2}},

 {"width":0.01,"height":94,"data":{"values":[]},"mark":"point","view":{"stroke":"#000","strokeWidth":2}},
 {"width":0.01,"height":0.01,"data":{"values":[]},"mark":"point"},
 {"width":0.01,"height":94,"data":{"values":[]},"mark":"point","view":{"stroke":"#000","strokeWidth":2}},
 {"width":0.01,"height":0.01,"data":{"values":[]},"mark":"point"},
 {"width": 85, "height": 94,
  "data": {"name": "capA"},
  "mark": {"type": "text", "align": "left", "baseline": "middle", "font": "'Liberation Serif', 'Noto Sans CJK JP'", "fontSize": 24.5, "color": "#111"},
  "encoding": {
   "y": {"field": "i", "type": "ordinal", "axis": null},
   "x": {"datum": 0, "type": "quantitative", "axis": null, "scale": {"domain": [0, 1]}},
   "text": {"field": "t"}
  }},
 {"width":0.01,"height":0.01,"data":{"values":[]},"mark":"point"},
 {"width":0.01,"height":0.01,"data":{"values":[]},"mark":"point"},
 {"width":0.01,"height":0.01,"data":{"values":[]},"mark":"point"},
 {"width":0.01,"height":0.01,"data":{"values":[]},"mark":"point"},
 {"width":0.01,"height":0.01,"data":{"values":[]},"mark":"point"},
 {"width":0.01,"height":94,"data":{"values":[]},"mark":"point","view":{"stroke":"#000","strokeWidth":2}},

 {"width":0.01,"height":0.01,"data":{"values":[]},"mark":"point"},
 {"width":0.01,"height":0.01,"data":{"values":[]},"mark":"point"},
 {"width":0.01,"height":140,"data":{"values":[]},"mark":"point","view":{"stroke":"#000","strokeWidth":2}},
 {"width":0.01,"height":0.01,"data":{"values":[]},"mark":"point"},
 {"width": 85, "height": 140,
  "data": {"name": "capB"},
  "mark": {"type": "text", "align": "left", "baseline": "middle", "font": "'Liberation Serif', 'Noto Sans CJK JP'", "fontSize": 24.5, "color": "#111"},
  "encoding": {
   "y": {"field": "i", "type": "ordinal", "axis": null},
   "x": {"datum": 0, "type": "quantitative", "axis": null, "scale": {"domain": [0, 1]}},
   "text": {"field": "t"}
  }},
 {"width":0.01,"height":0.01,"data":{"values":[]},"mark":"point"},
 {"width":0.01,"height":0.01,"data":{"values":[]},"mark":"point"},
 {"width":0.01,"height":0.01,"data":{"values":[]},"mark":"point"},
 {"width":0.01,"height":0.01,"data":{"values":[]},"mark":"point"},
 {"width":0.01,"height":0.01,"data":{"values":[]},"mark":"point"},
 {"width":0.01,"height":140,"data":{"values":[]},"mark":"point","view":{"stroke":"#000","strokeWidth":2}},

 {"width":0.01,"height":0.01,"data":{"values":[]},"mark":"point"},
 {"width":0.01,"height":0.01,"data":{"values":[]},"mark":"point"},
 {"width":0.01,"height":22,"data":{"values":[]},"mark":"point","view":{"stroke":"#000","strokeWidth":2}},
 {"width":0.01,"height":0.01,"data":{"values":[]},"mark":"point"},
 {"width":0.01,"height":0.01,"data":{"values":[]},"mark":"point"},
 {"width":0.01,"height":0.01,"data":{"values":[]},"mark":"point"},
 {"width":0.01,"height":0.01,"data":{"values":[]},"mark":"point"},
 {"width":0.01,"height":0.01,"data":{"values":[]},"mark":"point"},
 {"width":0.01,"height":0.01,"data":{"values":[]},"mark":"point"},
 {"width":0.01,"height":0.01,"data":{"values":[]},"mark":"point"},
 {"width":0.01,"height":22,"data":{"values":[]},"mark":"point","view":{"stroke":"#000","strokeWidth":2}}
]
}
